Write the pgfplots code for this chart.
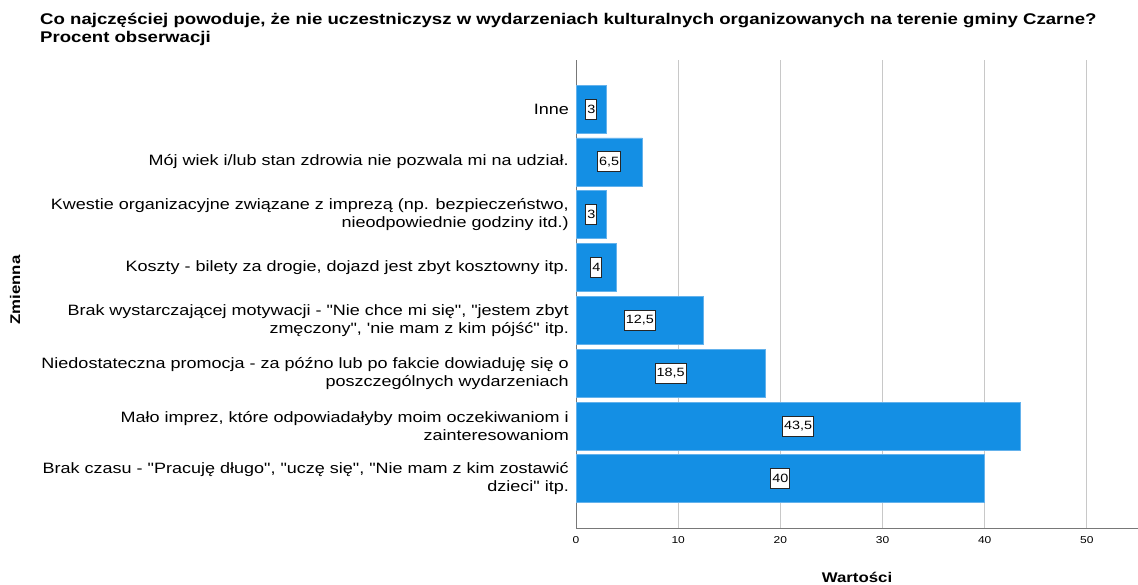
\documentclass[border=0pt]{standalone}
\usepackage{pgfplots}
\pgfplotsset{compat=1.18}
\usepackage{pgfplotstable}
\usepackage{fontspec}
\setmainfont{Liberation Sans}[FakeStretch=1.2, Ligatures=TeXOff]
\definecolor{barblue}{RGB}{20,143,228}
\definecolor{baredge}{RGB}{100,178,236}
\definecolor{gridgray}{RGB}{200,200,200}
\definecolor{axgray}{RGB}{120,120,120}

\pgfplotstableread{
y v lab
0 40 40
1 43.5 43,5
2 18.5 18,5
3 12.5 12,5
4 4 4
5 3 3
6 6.5 6,5
7 3 3
}\data

\begin{document}
\begin{tikzpicture}[x=1pt,y=1pt]
\path[use as bounding box] (0,0) rectangle (1138,585);
\begin{axis}[
  at={(576pt,56pt)}, anchor=south west,
  scale only axis, width=562pt, height=469pt,
  xbar, bar width=48pt,
  xmin=0, xmax=55, ymin=-0.95, ymax=7.93,
  axis x line*=bottom, axis y line*=left,
  axis line style={axgray, line width=1pt},
  xtick={0,10,20,30,40,50},
  ytick={0,1,2,3,4,5,6,7},
  yticklabels={
    {Brak czasu - "Pracuję długo", "uczę się", "Nie mam z kim zostawić\\dzieci" itp.},
    {Mało imprez, które odpowiadałyby moim oczekiwaniom i\\zainteresowaniom},
    {Niedostateczna promocja - za późno lub po fakcie dowiaduję się o\\poszczególnych wydarzeniach},
    {Brak wystarczającej motywacji - "Nie chce mi się", "jestem zbyt\\zmęczony", 'nie mam z kim pójść" itp.},
    {Koszty - bilety za drogie, dojazd jest zbyt kosztowny itp.},
    {Kwestie organizacyjne związane z imprezą (np. bezpieczeństwo,\\nieodpowiednie godziny itd.)},
    {Mój wiek i/lub stan zdrowia nie pozwala mi na udział.},
    {Inne}},
  yticklabel style={align=right, font=\fontsize{15}{18}\selectfont, inner sep=0pt, xshift=-7pt},
  xticklabel style={font=\fontsize{10}{12}\selectfont, yshift=-4pt},
  /pgf/number format/assume math mode=true,
  major tick length=0pt,
  xmajorgrids, major grid style={gridgray, line width=1pt},
  clip=false,
]
\addplot[fill=barblue, draw=baredge, line width=0.8pt] table[x=v, y=y]{\data};
\addplot[only marks, mark=none, nodes near coords, point meta=explicit symbolic,
  nodes near coords align=center,
  every node near coord/.style={draw=black!85, fill=white, inner xsep=1.5pt, inner ysep=0pt, minimum height=20pt, line width=0.9pt, font=\fontsize{12}{14}\selectfont, anchor=center}]
  table[x expr=\thisrow{v}/2, y=y, meta=lab]{\data};
\end{axis}
\node[anchor=base west, font=\bfseries\fontsize{15.5}{18}\selectfont, inner sep=0pt] at (40,560) {Co najczęściej powoduje, że nie uczestniczysz w wydarzeniach kulturalnych organizowanych na terenie gminy Czarne?};
\node[anchor=base west, font=\bfseries\fontsize{15.5}{18}\selectfont, inner sep=0pt] at (40,542) {Procent obserwacji};
\node[font=\bfseries\fontsize{14}{16}\selectfont] at (857,8) {Wartości};
\node[font=\bfseries\fontsize{14}{16}\selectfont, rotate=90] at (15,295) {Zmienna};
\end{tikzpicture}
\end{document}
